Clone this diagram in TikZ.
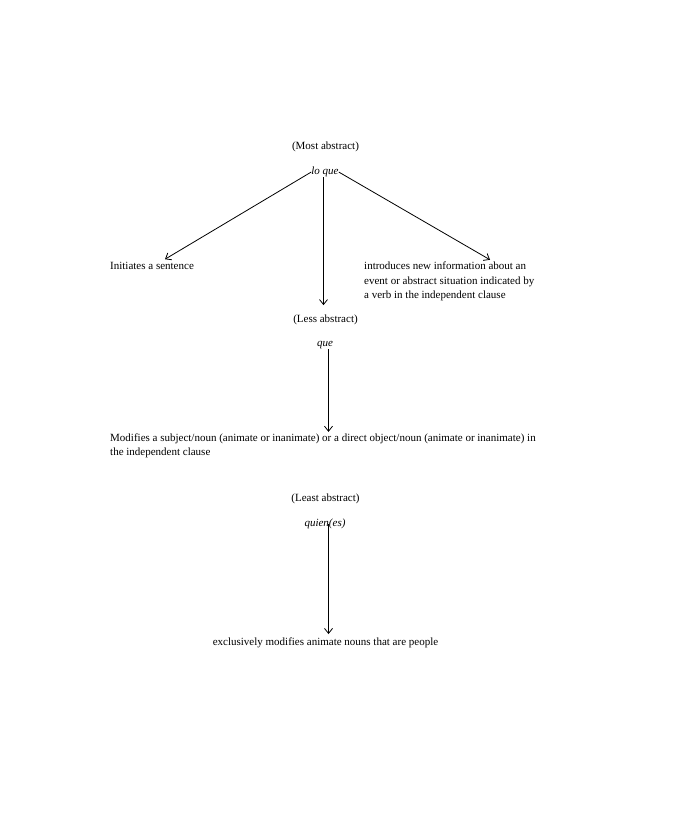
\documentclass[tikz,border=0pt]{standalone}
\usepackage{fontspec}
\setmainfont{Liberation Serif}
\usetikzlibrary{arrows.meta}
\tikzset{
  lvl/.style={font=\fontsize{11}{14.7}\selectfont, anchor=base, inner sep=0pt},
  pron/.style={font=\fontsize{11}{14.7}\selectfont\itshape, anchor=base, inner sep=0pt},
  use/.style={font=\fontsize{11}{14.5}\selectfont, anchor=base west, inner sep=0pt, align=left},
  link/.style={-{Straight Barb[length=5pt,width=8pt]}, line width=0.8pt}
}

\begin{document}
\begin{tikzpicture}[x=1pt, y=-1pt]
    \useasboundingbox (0,0) rectangle (681,825);
    % most abstract
    \node[lvl] (most) at (325.5,149.3) {(Most abstract)};
    \node[pron] (loque) at (325,174.7) {lo que};
    \node[use] (init) at (110,269.7) {Initiates a sentence};
    \node[use] (intro) at (364,298.7) {introduces new information about an\\
      event or abstract situation indicated by\\
      a verb in the independent clause};
    \draw[link] (loque.west) -- ([xshift=55pt,yshift=3pt]init.north west);
    \draw[link] (loque.east) -- ([xshift=126pt,yshift=2pt]intro.north west);
    % less abstract
    \node[lvl] (less) at (325.5,322) {(Less abstract)};
    \draw[link] ([xshift=-1.5pt]loque.south) -- ([xshift=-2pt,yshift=9pt]less.north);
    \node[pron] (que) at (325,346.7) {que};
    \node[use] (modif) at (110,455.8) {Modifies a subject/noun (animate or inanimate) or a direct object/noun (animate or inanimate) in\\
      the independent clause};
    \draw[link] ([xshift=3.5pt]que.south) -- ([xshift=3.5pt,yshift=1.5pt]que.south |- modif.north);
    % least abstract
    \node[lvl] (least) at (325.5,501.7) {(Least abstract)};
    \node[pron] (quien) at (325,526.5) {quien(es)};
    \node[lvl] (excl) at (325.5,645) {exclusively modifies animate nouns that are people};
    \draw[link] ([xshift=3.5pt,yshift=3pt]quien.base) -- ([xshift=3.5pt,yshift=3pt]quien.base |- excl.north);
\end{tikzpicture}
\end{document}
